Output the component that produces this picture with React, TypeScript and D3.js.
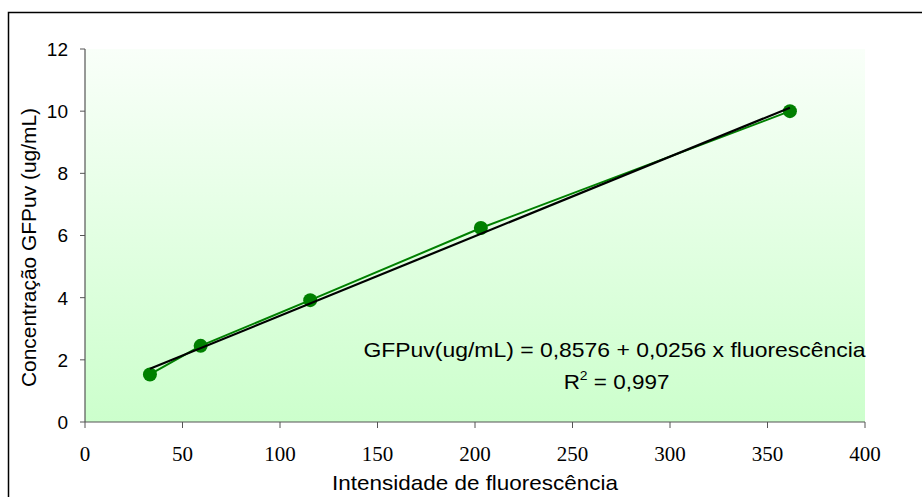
import React from "react";
import * as d3 from "d3";

const fluorescence = [33.3, 59.3, 115.5, 203, 361.5];
const concentration = [1.53, 2.45, 3.92, 6.24, 10.0];
const xTicks = [0, 50, 100, 150, 200, 250, 300, 350, 400];
const yTicks = [0, 2, 4, 6, 8, 10, 12];
const intercept = 0.8576;
const slope = 0.0256;
const eqText = "GFPuv(ug/mL) = 0,8576 + 0,0256 x fluorescência";
const xTitle = "Intensidade de fluorescência";
const yTitle = "Concentração GFPuv (ug/mL)";

export default function App() {
  const W = 922, H = 497;
  const x = d3.scaleLinear().domain([0, 400]).range([85, 865]);
  const y = d3.scaleLinear().domain([0, 12]).range([422, 49]);
  const pts = fluorescence.map((f, i) => [f, concentration[i]] as [number, number]);
  const line = d3.line<[number, number]>().x(d => x(d[0])).y(d => y(d[1]));
  const x0 = d3.min(fluorescence)!, x1 = d3.max(fluorescence)!;
  const trend: [number, number][] = [[x0, intercept + slope * x0], [x1, intercept + slope * x1]];
  const sans = "Liberation Sans, Arial, sans-serif";
  const serif = "Liberation Serif, Times New Roman, serif";
  return (
    <svg width={W} height={H} style={{ position: "absolute", left: 0, top: 0 }}>
      <defs>
        <linearGradient id="bg" x1="0" y1="0" x2="0" y2="1">
          <stop offset="0" stopColor="#f9fff9" />
          <stop offset="1" stopColor="#ccffcc" />
        </linearGradient>
      </defs>
      <rect x={0} y={0} width={W} height={H} fill="#fff" />
      <rect x={8.5} y={12.5} width={W + 20} height={H + 20} fill="none" stroke="#000" strokeWidth={1.5} />
      <rect x={x(0)} y={y(12)} width={x(400) - x(0)} height={y(0) - y(12)} fill="url(#bg)" />
      <line x1={x(0)} x2={x(0)} y1={y(12)} y2={y(0)} stroke="#555" strokeWidth={1.2} />
      <line x1={x(0)} x2={x(400)} y1={y(0)} y2={y(0)} stroke="#555" strokeWidth={1.2} />
      {yTicks.map(t => (
        <g key={"y" + t}>
          <line x1={x(0) - 5} x2={x(0)} y1={y(t)} y2={y(t)} stroke="#555" strokeWidth={1} />
          <text x={68} y={y(t)} dy="0.36em" textAnchor="end" fontFamily={sans} fontSize={19} fill="#000">{t}</text>
        </g>
      ))}
      {xTicks.map(t => (
        <g key={"x" + t}>
          <line x1={x(t)} x2={x(t)} y1={y(0)} y2={y(0) + 6} stroke="#555" strokeWidth={1} />
          <text x={x(t)} y={460.5} textAnchor="middle" fontFamily={serif} fontSize={21} fill="#000">{t}</text>
        </g>
      ))}
      <text x={475} y={490} textAnchor="middle" fontFamily={sans} fontSize={21} fill="#000"
        textLength={286} lengthAdjust="spacingAndGlyphs">{xTitle}</text>
      <text transform={`translate(36,247.5) rotate(-90)`} textAnchor="middle" fontFamily={sans} fontSize={20.5} fill="#000"
        textLength={279} lengthAdjust="spacingAndGlyphs">{yTitle}</text>
      <path d={line(pts)!} fill="none" stroke="#008000" strokeWidth={2} />
      {pts.map((p, i) => (
        <circle key={i} cx={x(p[0])} cy={y(p[1])} r={7} fill="#008000" />
      ))}
      <path d={line(trend)!} fill="none" stroke="#000" strokeWidth={2.2} />
      <text x={614.5} y={357} textAnchor="middle" fontFamily={sans} fontSize={21} fill="#000"
        textLength={502} lengthAdjust="spacingAndGlyphs">{eqText}</text>
      <g transform="translate(616.5,388.5) scale(1.07,1)">
        <text x={0} y={0} textAnchor="middle" fontFamily={sans} fontSize={21} fill="#000">
          R<tspan dy={-9} fontSize={13}>2</tspan><tspan dy={9}> = 0,997</tspan>
        </text>
      </g>
    </svg>
  );
}
